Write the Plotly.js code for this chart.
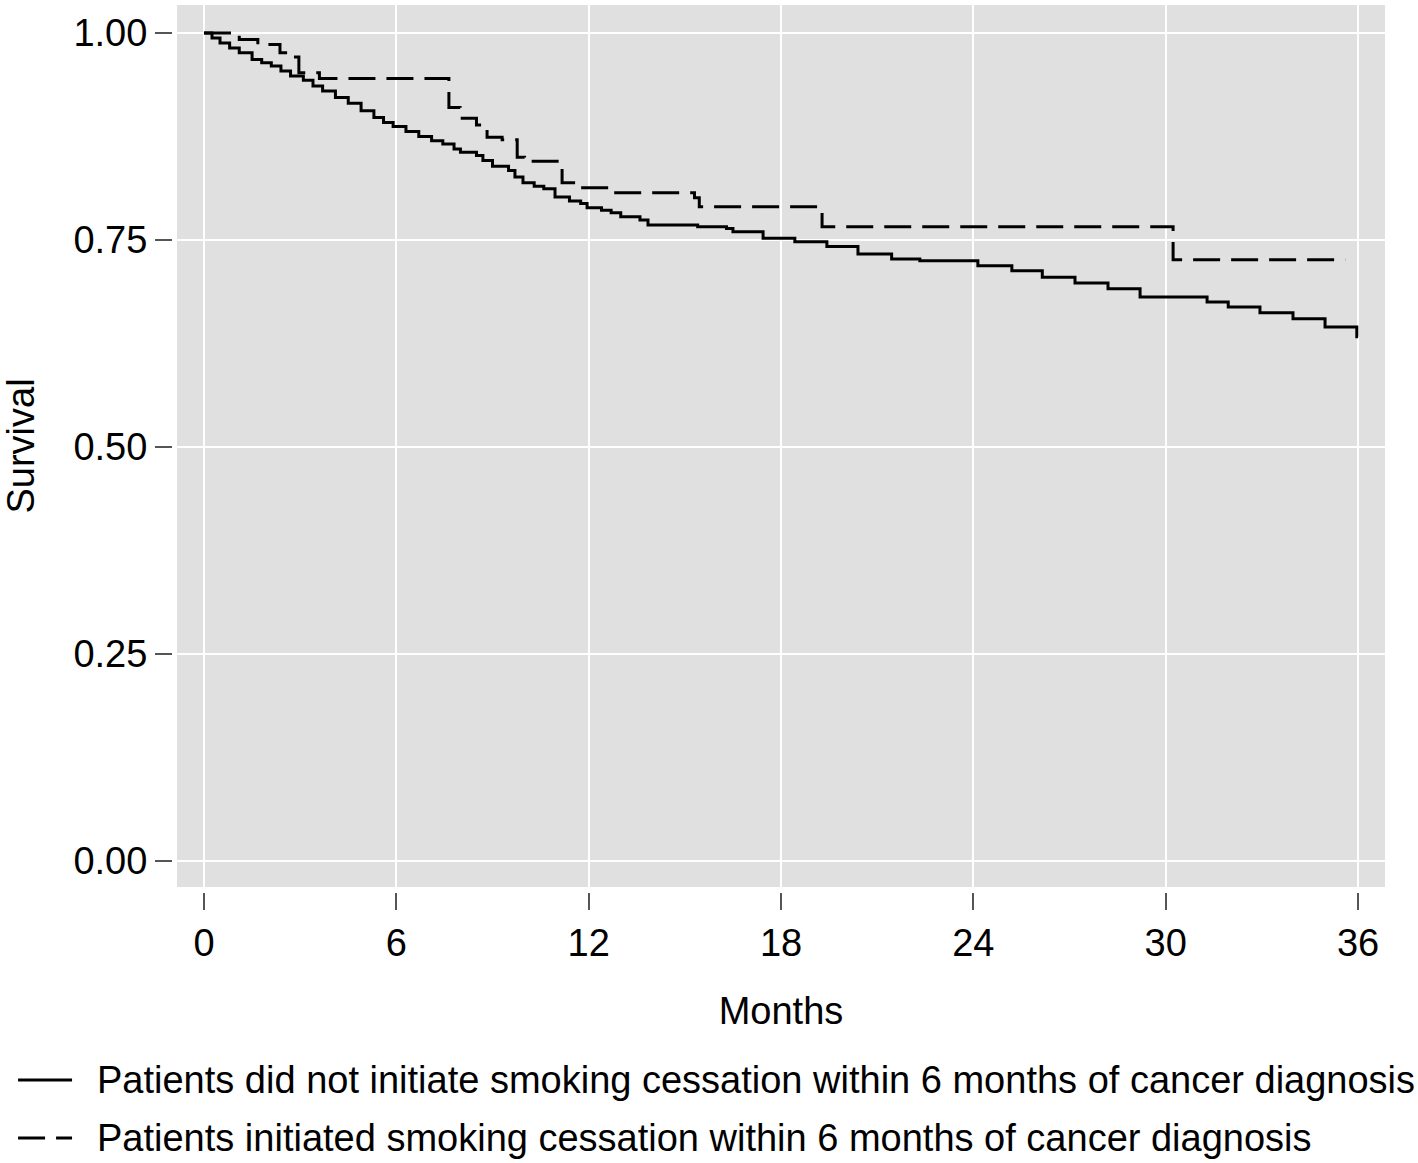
<!DOCTYPE html>
<html>
<head>
<meta charset="utf-8">
<script src="https://cdn.plot.ly/plotly-3.0.1.min.js"></script>
<style>html,body{margin:0;padding:0;background:#fff;}#chart{width:1418px;height:1163px;}</style>
</head>
<body>
<div id="chart"></div>
<script>
// Survival, patients who did NOT initiate smoking cessation within 6 months
const noCessMonths = [0, 0.25, 0.5, 0.8, 1.1, 1.5, 1.8, 2.1, 2.4, 2.7, 3.1, 3.4, 3.7, 4.1, 4.5, 4.9, 5.3, 5.6, 5.9, 6.3, 6.7, 7.1, 7.45, 7.8, 8.0, 8.5, 8.7, 9.0, 9.5, 9.7, 9.95, 10.3, 10.6, 10.95, 11.4, 11.75, 11.95, 12.4, 12.7, 13.0, 13.6, 13.85, 15.4, 16.3, 16.5, 17.44, 18.43, 19.43, 20.4, 21.45, 22.33, 24.14, 25.2, 26.15, 27.17, 28.2, 29.2, 31.29, 31.95, 32.94, 33.97, 34.97, 35.96, 36.0];
const noCessSurv = [1.000, 0.994, 0.988, 0.982, 0.976, 0.968, 0.964, 0.960, 0.954, 0.948, 0.943, 0.936, 0.930, 0.922, 0.915, 0.906, 0.898, 0.892, 0.887, 0.881, 0.875, 0.870, 0.866, 0.860, 0.856, 0.852, 0.846, 0.839, 0.834, 0.826, 0.819, 0.815, 0.812, 0.802, 0.797, 0.794, 0.789, 0.786, 0.783, 0.778, 0.774, 0.768, 0.766, 0.764, 0.760, 0.752, 0.748, 0.742, 0.733, 0.727, 0.725, 0.719, 0.713, 0.705, 0.698, 0.691, 0.681, 0.675, 0.669, 0.662, 0.655, 0.645, 0.633, 0.633];

// Survival, patients who initiated smoking cessation within 6 months
const cessMonths = [0, 1.1, 1.68, 2.37, 2.62, 2.96, 3.6, 7.64, 7.99, 8.5, 8.83, 9.3, 9.77, 10.0, 11.17, 11.7, 12.7, 15.3, 15.45, 19.28, 30.23, 35.6];
const cessSurv = [1.000, 0.992, 0.986, 0.976, 0.971, 0.952, 0.945, 0.910, 0.897, 0.889, 0.874, 0.871, 0.850, 0.845, 0.819, 0.813, 0.807, 0.801, 0.790, 0.766, 0.726, 0.726];

const xTicks = [0, 6, 12, 18, 24, 30, 36];
const yTicks = [0, 0.25, 0.5, 0.75, 1.0];
const yTickLabels = ['0.00', '0.25', '0.50', '0.75', '1.00'];
const seriesNames = [
  'Patients did not initiate smoking cessation within 6 months of cancer diagnosis',
  'Patients initiated smoking cessation within 6 months of cancer diagnosis'
];

const FONT = 'Liberation Sans, Arial, Helvetica, sans-serif';
const FS = 38;
const SOLID = {color: '#000000', width: 3, shape: 'hv'};
const DASHED = {color: '#000000', width: 3, shape: 'hv', dash: '27px,11px'};

const traces = [
  {x: noCessMonths, y: noCessSurv, name: seriesNames[0], type: 'scatter', mode: 'lines', line: SOLID},
  {x: cessMonths, y: cessSurv, name: seriesNames[1], type: 'scatter', mode: 'lines', line: DASHED}
];

// Legend drawn below the plot (paper coordinates; plot paper area spans px x 172..1385, y 5..892)
const legRowsY = [-0.2120, -0.2773];
const legLineX = [-0.1269, -0.0824];
const legTextX = -0.0635;
const legendStyles = [SOLID, DASHED];

const shapes = legendStyles.map((st, i) => ({
  type: 'line', xref: 'paper', yref: 'paper', layer: 'above',
  x0: legLineX[0], x1: legLineX[1], y0: legRowsY[i], y1: legRowsY[i],
  line: {color: st.color, width: st.width, dash: st.dash || 'solid'}
}));
const annotations = seriesNames.map((nm, i) => ({
  text: nm, xref: 'paper', yref: 'paper', x: legTextX, y: legRowsY[i],
  xanchor: 'left', yanchor: 'middle', showarrow: false,
  font: {family: FONT, size: FS, color: '#000000'}
}));

const layout = {
  width: 1418, height: 1163,
  margin: {l: 172, r: 33, t: 5, b: 271, pad: 0},
  paper_bgcolor: '#ffffff',
  plot_bgcolor: '#e0e0e0',
  font: {family: FONT, size: FS, color: '#000000'},
  showlegend: false,
  shapes: shapes,
  annotations: annotations,
  xaxis: {
    domain: [0.004122, 1],
    anchor: 'free', position: 0,
    range: [-0.842, 36.84],
    tickvals: xTicks,
    ticktext: xTicks.map(String),
    ticks: 'outside', ticklen: 17, tickwidth: 2, tickcolor: '#555555',
    showgrid: true, gridcolor: '#ffffff', gridwidth: 2,
    zeroline: false, showline: false,
    tickfont: {family: FONT, size: FS, color: '#000000'},
    title: {text: 'Months', font: {family: FONT, size: FS, color: '#000000'}, standoff: 34},
    automargin: false
  },
  yaxis: {
    domain: [0.005637, 1],
    anchor: 'free', position: 0,
    range: [-0.0314, 1.0338],
    tickvals: yTicks,
    ticktext: yTickLabels,
    ticks: 'outside', ticklen: 17, tickwidth: 2, tickcolor: '#555555',
    showgrid: true, gridcolor: '#ffffff', gridwidth: 2,
    zeroline: false, showline: false,
    tickfont: {family: FONT, size: FS, color: '#000000'},
    title: {text: 'Survival', font: {family: FONT, size: FS, color: '#000000'}, standoff: 28},
    automargin: false
  }
};

Plotly.newPlot('chart', traces, layout, {displayModeBar: false, staticPlot: true});
</script>
</body>
</html>
